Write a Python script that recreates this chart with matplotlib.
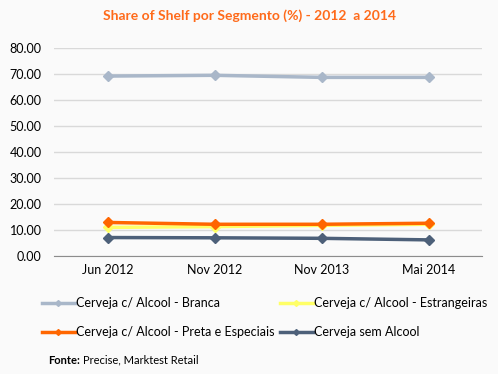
import matplotlib
matplotlib.use("Agg")
import matplotlib.pyplot as plt
from matplotlib.lines import Line2D

categories = ["Jun 2012", "Nov 2012", "Nov 2013", "Mai 2014"]
branca = [69.2, 69.5, 68.7, 68.7]
estrangeiras = [11.0, 11.3, 11.8, 12.2]
preta = [12.9, 12.2, 12.2, 12.6]
sem_alcool = [7.1, 7.0, 6.8, 6.2]
yticks = [0, 10, 20, 30, 40, 50, 60, 70, 80]

plt.rcParams['font.family'] = ['Lato', 'DejaVu Sans']
W, H = 498, 374
fig = plt.figure(figsize=(W/100, H/100), dpi=100, facecolor="#fafafa")
ax = fig.add_axes([54/W, 1-256/H, (482-54)/W, (256-48)/H])
ax.set_facecolor("#fafafa")

x = list(range(len(categories)))
series = [
    ("Cerveja c/ Alcool - Branca", branca, "#a9b7c9"),
    ("Cerveja c/ Alcool - Estrangeiras", estrangeiras, "#ffff66"),
    ("Cerveja c/ Alcool - Preta e Especiais", preta, "#ff6600"),
    ("Cerveja sem Alcool", sem_alcool, "#4d6079"),
]
for name, vals, col in series:
    ax.plot(x, vals, color=col, lw=2.5, marker="D", ms=5.5, label=name, zorder=3)

ax.set_xlim(-0.5, 3.5)
ax.set_ylim(0, 80)
ax.set_yticks(yticks)
ax.set_yticklabels([f"{v:.2f}" for v in yticks], fontsize=9)
ax.set_xticks(x)
ax.set_xticklabels(categories, fontsize=9)
ax.tick_params(length=0, pad=6)
ax.tick_params(axis='y', pad=9)
ax.grid(axis='y', color="#d9d9d9", lw=1)
ax.set_axisbelow(True)
for s in ["top", "right", "left"]:
    ax.spines[s].set_visible(False)
ax.spines["bottom"].set_color("#8c8c8c")

fig.text(0.5, 1-16/H, "Share of Shelf por Segmento (%) - 2012  a 2014", ha="center", va="center",
         color="#ff6a1a", fontsize=10, fontweight="bold")

handles = [Line2D([], [], color=c, lw=2.5, marker="D", ms=3) for _, _, c in series]
labels = [n for n, _, _ in series]
for col_i, xpix in enumerate([42, 280]):
    idx = [col_i, col_i + 2]
    fig.legend([handles[i] for i in idx], [labels[i] for i in idx], loc="upper left",
               bbox_to_anchor=(xpix/W, 1-297/H), frameon=False, fontsize=9,
               handlelength=2.6, handletextpad=0.15, labelspacing=1.4,
               borderaxespad=0, borderpad=0)

fig.text(48/W, 1-360/H, "Fonte:", fontsize=8, fontweight="bold", va="center")
fig.text(83/W, 1-360/H, "Precise, Marktest Retail", fontsize=8, va="center")

fig.savefig("out.png", dpi=100, facecolor=fig.get_facecolor())
